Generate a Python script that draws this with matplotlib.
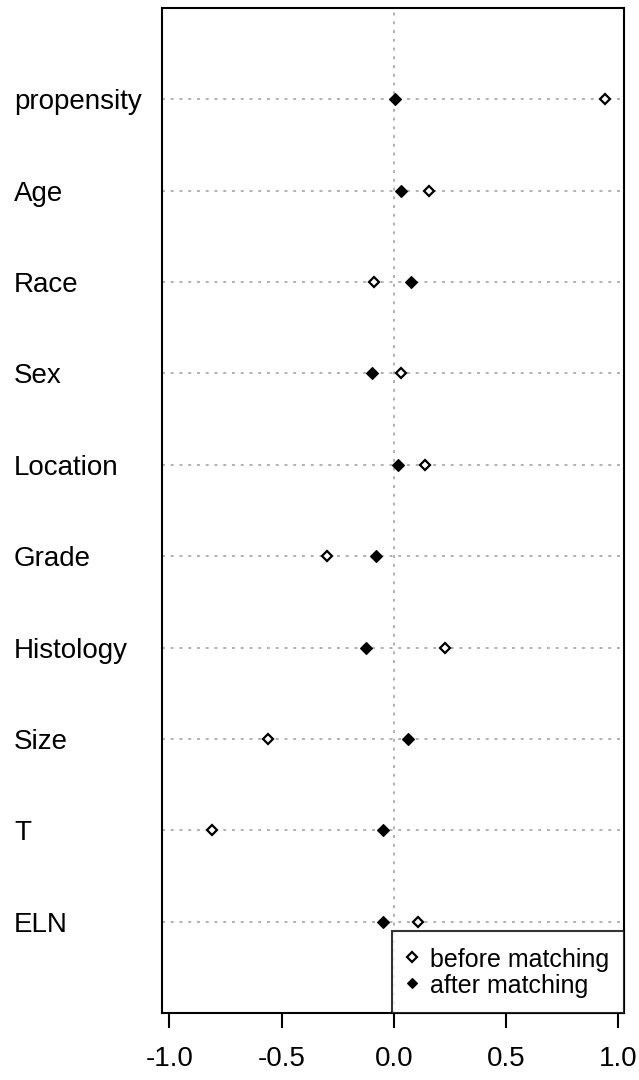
import matplotlib

matplotlib.use("Agg")
import matplotlib.pyplot as plt

plt.rcParams["font.family"] = ["Liberation Sans", "DejaVu Sans"]

# Covariates listed top to bottom, standardized mean differences.
covariates = ["propensity", "Age", "Race", "Sex", "Location", "Grade",
              "Histology", "Size", "T", "ELN"]
before = [0.94, 0.156, -0.09, 0.03, 0.136, -0.30, 0.226, -0.56, -0.81, 0.107]
after = [0.003, 0.031, 0.078, -0.10, 0.017, -0.08, -0.126, 0.064, -0.05, -0.049]
xticks = [-1.0, -0.5, 0.0, 0.5, 1.0]

n = len(covariates)
rows = list(range(n, 0, -1))

fig = plt.figure(figsize=(6.39, 10.8), dpi=100)
ax = fig.add_axes([0.2535, 0.062, 0.7230, 0.9306])

for y in rows:
    ax.axhline(y, color="#b0b0b0", lw=1.4, ls=(0, (1.5, 3)), zorder=1)
ax.axvline(0, color="#b0b0b0", lw=1.4, ls=(0, (1.5, 3)), zorder=1)

ax.plot(before, rows, ls="none", marker="D", ms=5.4, mfc="white", mec="black",
        mew=1.6, zorder=3, label="before matching")
ax.plot(after, rows, ls="none", marker="D", ms=6.0, mfc="black", mec="black",
        mew=0.8, zorder=3, label="after matching")

ax.set_xlim(-1.0334, 1.0245)
ax.set_ylim(0, n + 1)
ax.set_xticks(xticks)
ax.set_xticklabels([f"{v:.1f}" for v in xticks], fontsize=20)
ax.tick_params(axis="x", length=10.8, width=1.5, pad=13)
ax.set_yticks(rows)
ax.set_yticklabels(covariates, fontsize=20, ha="left")
ax.tick_params(axis="y", length=0, pad=106.5)
for s in ax.spines.values():
    s.set_linewidth(1.5)

leg = ax.legend(loc="lower right", fontsize=18, frameon=True, fancybox=False,
                borderaxespad=0, handlelength=0.4, handletextpad=0.5,
                handleheight=1.16, borderpad=0.6, labelspacing=0.0,
                markerscale=0.85)
leg.get_frame().set_edgecolor("black")
leg.get_frame().set_linewidth(1.5)

fig.savefig("out.png", dpi=100)
